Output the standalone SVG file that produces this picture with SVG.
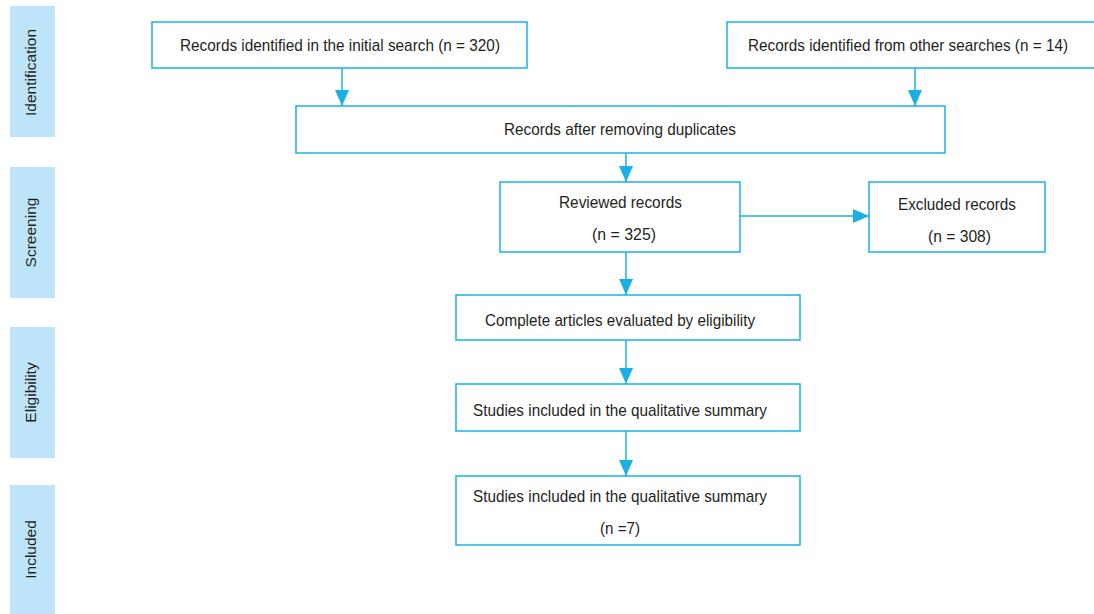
<svg xmlns="http://www.w3.org/2000/svg" width="1094" height="614" viewBox="0 0 1094 614">
<style>
.side{fill:#bee4f9;stroke:none}
.sl{font-family:"Liberation Sans",Arial,sans-serif;font-size:15.5px;fill:#231f20;text-anchor:middle}
.box{fill:#fff;stroke:#1ab0e6;stroke-width:1.5}
.t{font-family:"Liberation Sans",Arial,sans-serif;font-size:17px;fill:#231f20}
.c{fill:none;stroke:#1ab0e6;stroke-width:1.5}
</style>
<defs>
<marker id="ah" markerUnits="userSpaceOnUse" markerWidth="16" markerHeight="14" refX="16" refY="7" orient="auto">
<path d="M0,0 L16,7 L0,14 Z" fill="#1ab0e6"/>
</marker>
</defs>
<rect width="1094" height="614" fill="#fff"/>
<g id="stage-identification"><rect class="side" x="10" y="6" width="45" height="131"/><text class="sl" transform="translate(36,72.5) rotate(-90)">Identification</text></g>
<g id="stage-screening"><rect class="side" x="10" y="167" width="45" height="131"/><text class="sl" transform="translate(36,232.5) rotate(-90)">Screening</text></g>
<g id="stage-eligibility"><rect class="side" x="10" y="327" width="45" height="131"/><text class="sl" transform="translate(36,392.5) rotate(-90)">Eligibility</text></g>
<g id="stage-included"><rect class="side" x="10" y="485" width="45" height="129"/><text class="sl" transform="translate(36,549.5) rotate(-90)">Included</text></g>

<g id="connectors">
<line class="c" x1="342" y1="68" x2="342" y2="106" marker-end="url(#ah)"/>
<line class="c" x1="915" y1="68" x2="915" y2="106" marker-end="url(#ah)"/>
<line class="c" x1="626" y1="153" x2="626" y2="182" marker-end="url(#ah)"/>
<line class="c" x1="740" y1="216" x2="869" y2="216" marker-end="url(#ah)"/>
<line class="c" x1="626" y1="252" x2="626" y2="295" marker-end="url(#ah)"/>
<line class="c" x1="626" y1="340" x2="626" y2="384" marker-end="url(#ah)"/>
<line class="c" x1="626" y1="431" x2="626" y2="476" marker-end="url(#ah)"/>
</g>

<g id="n-initial"><rect class="box" x="152" y="22" width="375" height="46"/><text class="t" x="180" y="51" textLength="320" lengthAdjust="spacingAndGlyphs">Records identified in the initial search (n = 320)</text></g>
<g id="n-other"><rect class="box" x="727" y="22" width="368" height="46"/><text class="t" x="748" y="51" textLength="320" lengthAdjust="spacingAndGlyphs">Records identified from other searches (n = 14)</text></g>
<g id="n-dedup"><rect class="box" x="296" y="106" width="649" height="47"/><text class="t" x="504" y="135" textLength="232" lengthAdjust="spacingAndGlyphs">Records after removing duplicates</text></g>
<g id="n-reviewed"><rect class="box" x="500" y="182" width="240" height="70"/><text class="t" x="559" y="208" textLength="123" lengthAdjust="spacingAndGlyphs">Reviewed records</text><text class="t" x="592" y="240" textLength="64" lengthAdjust="spacingAndGlyphs">(n = 325)</text></g>
<g id="n-excluded"><rect class="box" x="869" y="182" width="176" height="70"/><text class="t" x="898" y="210" textLength="118" lengthAdjust="spacingAndGlyphs">Excluded records</text><text class="t" x="928" y="242" textLength="63" lengthAdjust="spacingAndGlyphs">(n = 308)</text></g>
<g id="n-complete"><rect class="box" x="456" y="295" width="344" height="45"/><text class="t" x="485" y="326" textLength="270" lengthAdjust="spacingAndGlyphs">Complete articles evaluated by eligibility</text></g>
<g id="n-studies"><rect class="box" x="456" y="384" width="344" height="47"/><text class="t" x="473" y="416" textLength="294" lengthAdjust="spacingAndGlyphs">Studies included in the qualitative summary</text></g>
<g id="n-final"><rect class="box" x="456" y="476" width="344" height="69"/><text class="t" x="473" y="502" textLength="294" lengthAdjust="spacingAndGlyphs">Studies included in the qualitative summary</text><text class="t" x="600" y="534" textLength="40" lengthAdjust="spacingAndGlyphs">(n =7)</text></g>
</svg>
